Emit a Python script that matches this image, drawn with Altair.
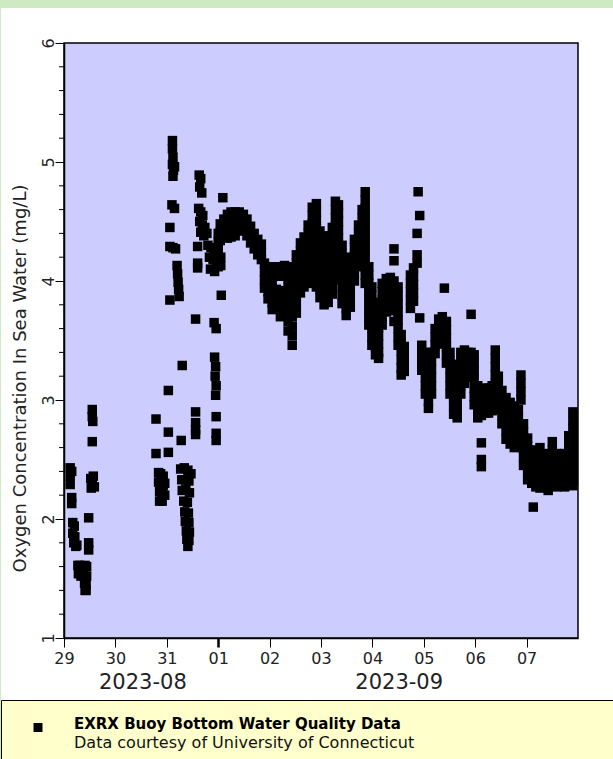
import altair as alt
import pandas as pd

# ---------------- data ----------------
# each entry: (days after 2023-08-29 00:00, [oxygen readings in mg/L at that time])
aug29 = [
    (0.12, [2.43, 2.36, 2.29]), (0.15, [2.40, 2.18, 2.13]), (0.17, [1.97, 1.88]),
    (0.19, [1.80]), (0.20, [1.94]), (0.21, [1.85]), (0.23, [1.77]), (0.25, [1.78]),
    (0.27, [1.61]), (0.28, [1.54]), (0.31, [1.61]), (0.33, [1.52]), (0.36, [1.60]),
    (0.39, [1.53]), (0.40, [1.46]), (0.41, [1.61, 1.40]), (0.43, [1.45, 1.40]),
    (0.44, [1.60, 1.52]), (0.48, [2.01, 1.80, 1.74]), (0.52, [2.34]), (0.53, [2.26]),
    (0.55, [2.92, 2.86, 2.65, 2.30]), (0.56, [2.82]), (0.57, [2.36]), (0.59, [2.27]),
]
aug30 = [
    (1.79, [2.84, 2.55]), (1.84, [2.39, 2.31]), (1.86, [2.23, 2.15]), (1.88, [2.38, 2.30]),
    (1.91, [2.21, 2.15]), (1.93, [2.36, 2.28]), (1.96, [2.30, 2.20]),
]
aug31 = [
    (2.03, [3.08, 2.73, 2.56]), (2.06, [4.45, 4.29, 3.84]), (2.10, [4.64]),
    (2.11, [5.18, 5.11, 4.98]), (2.12, [5.04, 4.88, 4.28]), (2.13, [4.93]),
    (2.15, [4.96, 4.61]), (2.17, [4.27]), (2.20, [4.13]), (2.21, [4.06]), (2.22, [3.99]),
    (2.23, [3.93]), (2.24, [3.87]), (2.27, [2.42]), (2.28, [2.66]), (2.29, [2.33]),
    (2.30, [3.29, 2.24]), (2.33, [2.15]), (2.34, [2.43]), (2.35, [2.06]),
    (2.36, [2.33, 1.98]), (2.37, [2.25]), (2.38, [1.90]), (2.39, [1.83]), (2.40, [2.14]),
    (2.41, [2.41, 1.77]), (2.42, [2.05]), (2.43, [2.32, 1.97, 1.82]), (2.44, [2.22, 1.89]),
    (2.47, [2.38]), (2.56, [3.68, 2.90, 2.81, 2.75, 2.71]), (2.60, [4.29, 4.15, 4.11]),
    (2.62, [4.61]), (2.63, [4.89]), (2.64, [4.79, 4.50]), (2.66, [4.86, 4.58, 4.41]),
    (2.68, [4.74]), (2.69, [4.47]), (2.70, [4.55]), (2.72, [4.38]), (2.74, [4.45]),
    (2.78, [4.40]), (2.80, [4.30]), (2.83, [4.20]), (2.85, [4.10]), (2.86, [4.28]),
    (2.90, [4.18]), (2.92, [4.27, 3.65]), (2.93, [4.08, 3.36]), (2.94, [3.20]),
    (2.95, [3.28, 3.04]), (2.96, [4.15, 3.60, 3.12, 2.86, 2.72, 2.66]), (2.98, [4.25]),
]
sep01 = [
    (3.00, [4.40, 4.33, 4.26, 4.19, 4.12]), (3.04, [4.48, 4.41, 4.34]), (3.05, [4.20, 4.13]),
    (3.06, [3.88]), (3.09, [4.70]), (3.11, [4.52, 4.45, 4.38]),
    (3.18, [4.56, 4.49, 4.42, 4.36]), (3.25, [4.58, 4.51, 4.44, 4.37]),
    (3.33, [4.58, 4.51, 4.44, 4.38]), (3.41, [4.58, 4.51, 4.44]), (3.49, [4.56, 4.49, 4.42]),
    (3.56, [4.52, 4.45, 4.38]), (3.63, [4.46, 4.39, 4.32]), (3.70, [4.40, 4.33, 4.27]),
    (3.77, [4.35, 4.28, 4.22]), (3.84, [4.31, 4.24, 4.18]),
    (3.90, [4.15, 4.08, 4.01, 3.94]), (3.97, [4.12, 4.05, 3.98, 3.91, 3.85]),
]
sep02 = [
    (4.05, [4.10, 4.03, 3.96, 3.89, 3.82, 3.76]), (4.13, [4.12, 4.05, 3.93, 3.86, 3.79]),
    (4.21, [4.11, 4.04, 3.90, 3.83, 3.76, 3.70]), (4.29, [4.13, 4.06, 3.92, 3.85, 3.78, 3.71]),
    (4.36, [4.09, 4.02, 3.95, 3.88, 3.81, 3.74, 3.66, 3.58]),
    (4.44, [4.12, 4.05, 3.98, 3.91, 3.84, 3.77, 3.70, 3.62, 3.54, 3.46]),
    (4.52, [4.22, 4.15, 4.08, 4.01, 3.94, 3.87, 3.80, 3.73]),
    (4.60, [4.32, 4.25, 4.18, 4.11, 4.04, 3.97, 3.90]),
    (4.67, [4.37, 4.30, 4.23, 4.16, 4.09, 4.02, 3.95]),
    (4.75, [4.47, 4.40, 4.33, 4.26, 4.19, 4.12, 4.05, 3.98]),
    (4.83, [4.62, 4.55, 4.48, 4.41, 4.34, 4.27, 4.20, 4.13, 4.06, 3.99]),
    (4.91, [4.65, 4.58, 4.51, 4.44, 4.37, 4.30, 4.23, 4.16, 4.09, 4.02, 3.95]),
    (4.98, [4.42, 4.35, 4.28, 4.21, 4.14, 4.07, 4.00, 3.93, 3.86]),
]
sep03 = [
    (5.06, [4.36, 4.29, 4.22, 4.15, 4.08, 4.01, 3.94, 3.87, 3.80]),
    (5.14, [4.38, 4.31, 4.24, 4.17, 4.10, 4.03, 3.96, 3.89, 3.82]),
    (5.22, [4.45, 4.38, 4.31, 4.24, 4.17, 4.10, 4.03, 3.96, 3.89]),
    (5.28, [4.67, 4.60, 4.53, 4.46, 4.39, 4.32, 4.25, 4.18, 4.11]),
    (5.34, [4.64, 4.57, 4.50, 4.43, 4.36, 4.29, 4.22, 4.15, 4.08, 4.01]),
    (5.41, [4.30, 4.23, 4.16, 4.09, 4.02, 3.95, 3.88, 3.81]),
    (5.49, [4.12, 4.05, 3.98, 3.91, 3.84, 3.77, 3.71]),
    (5.57, [4.20, 4.13, 4.06, 3.99, 3.92, 3.85, 3.78]),
    (5.65, [4.35, 4.28, 4.21, 4.14, 4.07, 4.00]),
    (5.73, [4.47, 4.40, 4.33, 4.26, 4.19, 4.12]),
    (5.80, [4.60, 4.53, 4.46, 4.39, 4.32, 4.25, 4.18]),
    (5.86, [4.75, 4.68, 4.61, 4.54, 4.47, 4.40, 4.33, 4.26, 4.19, 4.12, 4.05, 3.98]),
    (5.93, [4.12, 4.05, 3.98, 3.91, 3.84, 3.77, 3.70, 3.63]),
    (5.99, [3.95, 3.88, 3.81, 3.74, 3.67, 3.60, 3.53, 3.46]),
]
sep04 = [
    (6.06, [3.80, 3.73, 3.66, 3.59, 3.52, 3.45, 3.38]),
    (6.12, [3.82, 3.75, 3.68, 3.61, 3.54, 3.47, 3.40, 3.35]),
    (6.19, [3.98, 3.91, 3.84, 3.77, 3.70, 3.63]), (6.27, [4.02, 3.95, 3.88, 3.81, 3.74]),
    (6.35, [4.03, 3.96, 3.89, 3.82, 3.75]), (6.42, [4.27, 4.17, 4.00, 3.93, 3.86, 3.80, 3.66]),
    (6.50, [3.95, 3.88, 3.81, 3.74, 3.67, 3.60, 3.53, 3.46]),
    (6.56, [3.55, 3.48, 3.41, 3.34, 3.27, 3.21]), (6.62, [3.45, 3.38, 3.31, 3.24]),
    (6.74, [4.05, 3.98, 3.91, 3.84, 3.77]), (6.80, [4.11, 4.04, 3.97, 3.90, 3.83]),
    (6.87, [4.40, 4.22, 4.15]), (6.89, [4.75]), (6.92, [4.55, 3.69]),
    (6.96, [3.46, 3.39, 3.32, 3.25]),
]
sep05 = [
    (7.03, [3.40, 3.33, 3.26, 3.19, 3.12, 3.05]), (7.09, [3.20, 3.13, 3.06, 2.99, 2.93]),
    (7.15, [3.40, 3.33, 3.26, 3.19, 3.12, 3.05]), (7.22, [3.60, 3.53, 3.46, 3.39]),
    (7.29, [3.68, 3.61, 3.54, 3.47]), (7.36, [3.70, 3.63, 3.56, 3.49]), (7.40, [3.94]),
    (7.44, [3.66, 3.59, 3.52, 3.45, 3.38, 3.31]), (7.51, [3.40, 3.33, 3.26, 3.19, 3.12, 3.05]),
    (7.58, [3.30, 3.23, 3.16, 3.09, 3.02, 2.95, 2.88]),
    (7.65, [3.20, 3.13, 3.06, 2.99, 2.92, 2.85]), (7.72, [3.40, 3.33, 3.26, 3.19, 3.12, 3.05]),
    (7.79, [3.42, 3.35, 3.28, 3.21, 3.14]), (7.86, [3.40, 3.33, 3.26, 3.19]),
    (7.92, [3.72, 3.40, 3.33, 3.26]), (7.98, [3.38, 3.31, 3.24, 3.17, 3.10, 3.03, 2.96]),
]
sep06 = [
    (8.05, [3.12, 3.05, 2.98, 2.91, 2.85]), (8.12, [3.08, 3.01, 2.94, 2.87, 2.64, 2.50, 2.44]),
    (8.19, [3.10, 3.03, 2.96, 2.89]), (8.26, [3.10, 3.03, 2.96, 2.89]),
    (8.33, [3.12, 3.05, 2.98, 2.91]), (8.39, [3.42, 3.35, 3.28, 3.21, 3.14, 3.07, 3.00]),
    (8.45, [3.20, 3.13, 3.06, 2.99, 2.92]), (8.52, [3.08, 3.01, 2.94, 2.87, 2.80]),
    (8.60, [3.02, 2.95, 2.88, 2.81, 2.74, 2.67]), (8.68, [2.98, 2.91, 2.84, 2.77, 2.70, 2.63]),
    (8.76, [2.95, 2.88, 2.81, 2.74, 2.67, 2.60]), (8.84, [2.92, 2.85, 2.78, 2.71, 2.64]),
    (8.89, [3.21, 3.14, 3.07, 3.00]), (8.94, [2.80, 2.73, 2.66, 2.59, 2.52, 2.45]),
]
sep07 = [
    (9.02, [2.68, 2.61, 2.54, 2.47, 2.40, 2.33]), (9.10, [2.58, 2.51, 2.44, 2.37, 2.30]),
    (9.13, [2.10]), (9.18, [2.55, 2.48, 2.41, 2.34, 2.27]),
    (9.26, [2.60, 2.53, 2.46, 2.39, 2.32, 2.26]), (9.34, [2.55, 2.48, 2.41, 2.34, 2.27]),
    (9.42, [2.52, 2.45, 2.38, 2.31, 2.24]), (9.50, [2.65, 2.58, 2.51, 2.44, 2.37, 2.30]),
    (9.58, [2.55, 2.48, 2.41, 2.34, 2.27]), (9.66, [2.50, 2.43, 2.36, 2.29]),
    (9.74, [2.55, 2.48, 2.41, 2.34, 2.27]), (9.82, [2.70, 2.63, 2.56, 2.49, 2.42, 2.35]),
    (9.90, [2.90, 2.83, 2.76, 2.69, 2.62, 2.55, 2.48, 2.41, 2.34, 2.28]),
    (9.97, [2.88, 2.81, 2.74, 2.67, 2.60, 2.53, 2.46, 2.39, 2.32]),
]

tick_days = [(2023, 8, 29), (2023, 8, 30), (2023, 8, 31), (2023, 9, 1), (2023, 9, 2),
             (2023, 9, 3), (2023, 9, 4), (2023, 9, 5), (2023, 9, 6), (2023, 9, 7)]
months = ["2023-08", "2023-09"]
month_mid = ["2023-08-30T12:50:00", "2023-09-04T12:30:00"]
y_major = [1, 2, 3, 4, 5, 6]
y_minor = [round(i / 5, 1) for i in range(5, 31) if i % 5 != 0]
y_title = "Oxygen Concentration In Sea Water (mg/L)"
legend_title = "EXRX Buoy Bottom Water Quality Data"
legend_note = "Data courtesy of University of Connecticut"

# ---------------- build table ----------------
start = pd.Timestamp("2023-08-29")
rows = []
for seg in (aug29, aug30, aug31, sep01, sep02, sep03, sep04, sep05, sep06, sep07):
    for t, vals in seg:
        stamp = (start + pd.Timedelta(days=t)).strftime("%Y-%m-%dT%H:%M:%S")
        for v in vals:
            rows.append({"time": stamp, "oxygen": v})
df = pd.DataFrame(rows)

FONT = "DejaVu Sans"
GREEN = "#cdeac3"
one = pd.DataFrame({"k": [0]})

x_scale = alt.Scale(domain=[alt.DateTime(year=2023, month=8, date=29),
                            alt.DateTime(year=2023, month=9, date=8)])
y_scale = alt.Scale(domain=[1, 6], nice=False, zero=False)

x_axis = alt.Axis(
    values=[alt.DateTime(year=a, month=b, date=c) for a, b, c in tick_days],
    format="%d", labelFont=FONT, labelFontSize=16, labelColor="#222",
    labelPadding=3, labelFlush=False, labelOverlap=False,
    tickSize=9, tickColor="black",
    tickWidth={"condition": {"test": "date(datum.value) == 1", "value": 2.5}, "value": 1},
    domainColor="black", domainWidth=1.5, grid=False,
)
y_axis = alt.Axis(
    values=y_major, labelFont=FONT, labelFontSize=16, labelColor="#222",
    labelAngle=270, labelAlign="center", labelBaseline="alphabetic", labelPadding=2,
    tickSize=9, tickColor="black", domainColor="black", domainWidth=1.5, grid=False,
    titleFont=FONT, titleFontSize=18, titleFontWeight="normal", titleColor="#222",
    titleAngle=270, titleAlign="center", titleBaseline="middle", titleX=-44, titleY=335,
)

points = alt.Chart(df).mark_square(size=90, color="black", opacity=1, clip=True).encode(
    x=alt.X("time:T", scale=x_scale, axis=x_axis, title=None),
    y=alt.Y("oxygen:Q", scale=y_scale, axis=y_axis, title=y_title),
)

minor = alt.Chart(pd.DataFrame({"tick": y_minor})).mark_rule(color="black", strokeWidth=1).encode(
    y=alt.Y("tick:Q", scale=y_scale, axis=y_axis, title=y_title),
    x=alt.value(-5), x2=alt.value(0),
)

month_text = alt.Chart(pd.DataFrame({"label": months, "mid": month_mid})).mark_text(
    font=FONT, fontSize=21, color="#222", align="center", baseline="alphabetic"
).encode(
    x=alt.X("mid:T", scale=x_scale, axis=x_axis, title=None),
    y=alt.value(646),
    text="label:N",
)

green_top = alt.Chart(one).mark_rect(color=GREEN).encode(
    x=alt.value(-64), x2=alt.value(549), y=alt.value(-43), y2=alt.value(-35))
green_left = alt.Chart(one).mark_rect(color=GREEN).encode(
    x=alt.value(-64), x2=alt.value(-63), y=alt.value(-43), y2=alt.value(716))
legend_box = alt.Chart(one).mark_rect(fill="#ffffcc", stroke="black", strokeWidth=1).encode(
    x=alt.value(-62.5), x2=alt.value(560), y=alt.value(657.5), y2=alt.value(730))
legend_marker = alt.Chart(one).mark_square(size=81, color="black", opacity=1).encode(
    x=alt.value(-26), y=alt.value(684.5))
legend_t1 = alt.Chart(one).mark_text(
    text=legend_title, font=FONT, fontSize=15, fontWeight="bold", align="left",
    baseline="alphabetic", color="black").encode(x=alt.value(10), y=alt.value(686))
legend_t2 = alt.Chart(one).mark_text(
    text=legend_note, font=FONT, fontSize=16, align="left",
    baseline="alphabetic", color="#111").encode(x=alt.value(10), y=alt.value(705))

chart = alt.layer(
    green_top, green_left, legend_box, points, minor, month_text,
    legend_marker, legend_t1, legend_t2,
).properties(
    width=514, height=595,
    autosize=alt.AutoSizeParams(type="none"),
    padding={"left": 64, "top": 43, "right": 35, "bottom": 121},
    background="white",
).configure_view(fill="#ccccff", stroke="black", strokeWidth=1.5)

chart.save("out.html", embed_options={"renderer": "svg", "actions": False})
